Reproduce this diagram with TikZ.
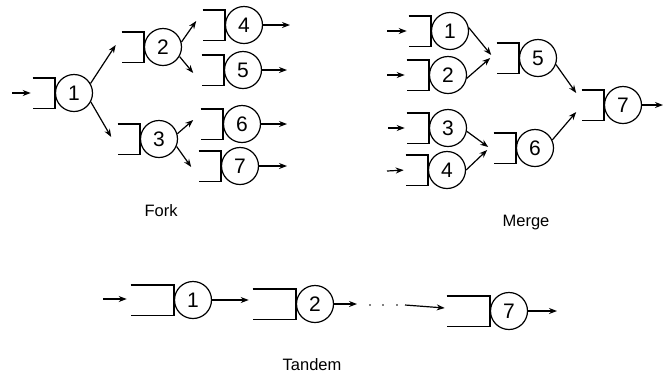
\documentclass[tikz,border=0pt]{standalone}
\usepackage{fontspec}
\setmainfont{Liberation Sans}
\usetikzlibrary{arrows.meta,positioning}
\begin{document}
\begin{tikzpicture}[x=1pt,y=-1pt,line width=1.2pt,
  srv/.style={circle,draw,minimum size=37pt,inner sep=0pt,font=\fontsize{21}{21}\selectfont},
  que/.style={rectangle,minimum width=21pt,minimum height=29pt,inner sep=0pt},
  tque/.style={rectangle,minimum width=42pt,minimum height=29pt,inner sep=0pt},
  arr/.style={-{Stealth[length=8pt,width=6pt]}},
  lab/.style={font=\fontsize{16.5}{16.5}\selectfont}]
\useasboundingbox (0,0) rectangle (664,376);
% ---------- Fork ----------
\node[srv] (f1) at (74,93) {1};
\node[srv] (f2) at (163,47) {2};
\node[srv] (f3) at (159,139) {3};
\node[srv] (f4) at (244,25) {4};
\node[srv] (f5) at (243,70) {5};
\node[srv] (f6) at (242,124) {6};
\node[srv] (f7) at (240,166) {7};
\foreach \i in {1,...,7} {\node[que,left=0pt of f\i] (fq\i) {};}
\coordinate (fin) at (12,93);
\coordinate (fo4) at (290,25);
\coordinate (fo5) at (287,70);
\coordinate (fo6) at (287,124);
\coordinate (fo7) at (287,166);
% ---------- Merge ----------
\node[srv] (m1) at (450,31) {1};
\node[srv] (m2) at (448,75) {2};
\node[srv] (m3) at (448,128) {3};
\node[srv] (m4) at (447,170) {4};
\node[srv] (m5) at (538,58) {5};
\node[srv] (m6) at (535,148) {6};
\node[srv] (m7) at (623,105) {7};
\foreach \i in {1,...,7} {\node[que,left=0pt of m\i] (mq\i) {};}
\coordinate (mi1) at (387,31);
\coordinate (mi2) at (387,75);
\coordinate (mi3) at (388,128);
\coordinate (mi4) at (387,171);
\coordinate (mo7) at (663,105);
% ---------- Tandem ----------
\node[srv] (t1) at (193,300) {1};
\node[srv] (t2) at (315,304) {2};
\node[srv] (t7) at (509,311) {7};
\foreach \i in {1,2,7} {\node[tque,left=0pt of t\i] (tq\i) {};}
\coordinate (ti) at (103,299);
\coordinate (t2o) at (357,304);
\coordinate (tdots) at (405,305);
\coordinate (to7) at (557,311);
% queues
\foreach \q in {fq1,fq2,fq3,fq4,fq5,fq6,fq7,mq1,mq2,mq3,mq4,mq5,mq6,mq7,tq1,tq2,tq7}
  \draw (\q.north west) -- (\q.north east) -- (\q.south east) -- (\q.south west);
% fork arrows
\draw[arr,shorten >=2pt] (fin) -- (fq1.west);
\draw[arr] (f1.30) -- ([shift={(-6,-2)}]fq2.west);
\draw[arr] (f1.-28) -- ([shift={(-6.5,-2)}]fq3.west);
\draw[arr] (f2.15) -- ([shift={(-6.5,-4)}]fq4.west);
\draw[arr] (f2.-30) -- ([shift={(-8.5,3)}]fq5.west);
\draw[arr] (f3.16) -- ([shift={(-7.5,-4)}]fq6.west);
\draw[arr] (f3.-23) -- ([shift={(-7.5,1)}]fq7.west);
\foreach \i in {4,5,6,7} \draw[arr] (f\i.east) -- (fo\i);
% merge arrows
\foreach \i in {1,2,3,4} \draw[arr,shorten >=2pt] (mi\i) -- (mq\i.west);
\draw[arr] (m1.10) -- ([shift={(-5.5,-3)}]mq5.west);
\draw[arr] (m2.-10) -- ([shift={(-6.5,0)}]mq5.west);
\draw[arr] (m3.-10) -- ([shift={(-5.5,-1)}]mq6.west);
\draw[arr] (m4.0) -- ([shift={(-6.5,2)}]mq6.west);
\draw[arr] (m5.-20) -- ([shift={(-5.5,-12)}]mq7.west);
\draw[arr] (m6.25) -- ([shift={(-5.5,7)}]mq7.west);
\draw[arr] (m7.east) -- (mo7);
% tandem arrows
\draw[arr,shorten >=4pt] (ti) -- (ti -| tq1.west);
\draw[arr,shorten >=4pt] (t1.east) -- (t1.east -| tq2.west);
\draw[arr] (t2.east) -- (t2o);
\foreach \xx in {370,383,397} \fill (\xx,305) circle (0.9pt);
\draw[arr] (tdots) -- ([shift={(-2,-3)}]tq7.west);
\draw[arr] (t7.east) -- (to7);
% labels
\node[lab] (lfork) at (161,211) {Fork};
\node[lab] (lmerge) at (526,223) {Merge};
\node[lab] (ltandem) at (312,365) {Tandem};
\end{tikzpicture}
\end{document}
